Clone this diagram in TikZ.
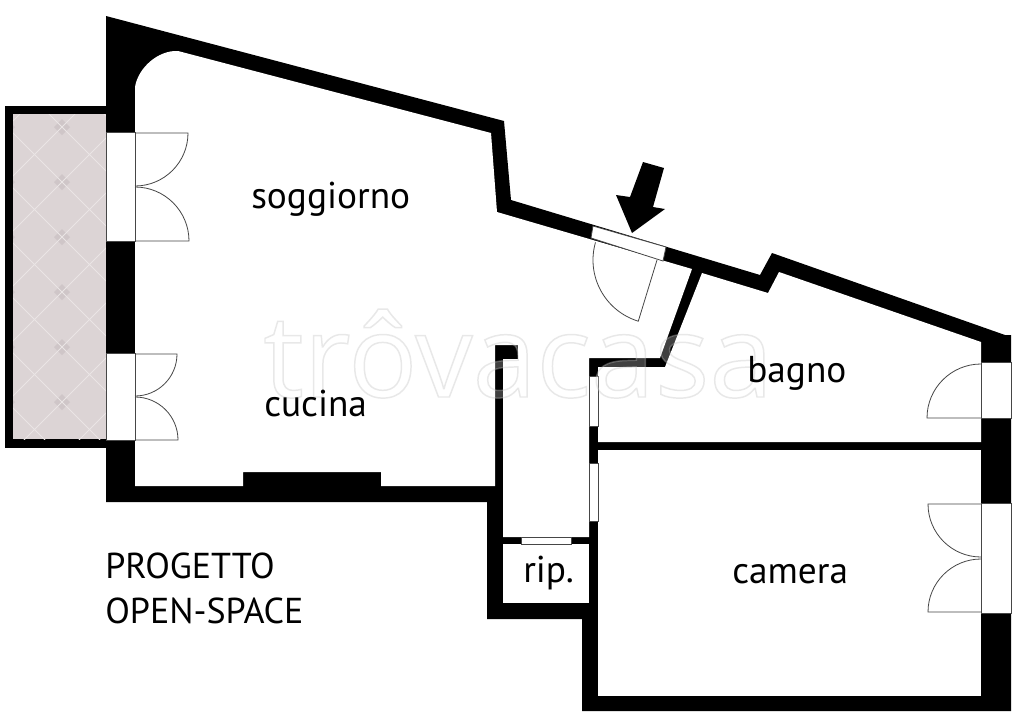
\documentclass[tikz,border=0pt]{standalone}
\usepackage{fontspec}
\setmainfont{PT Sans}
\newfontfamily\markfont{Open Sans}
\usetikzlibrary{positioning, calc}
\definecolor{myfloor}{RGB}{220,212,213}
\definecolor{mytile}{RGB}{234,229,229}
\definecolor{mytiledark}{RGB}{207,198,200}
\definecolor{myline}{RGB}{70,70,70}
\tikzset{
    wall/.style={fill=black,draw=none},
    room/.style={fill=white,draw=none},
    opening/.style={fill=white,draw=myline,line width=0.6pt},
    leaf/.style={draw=myline,line width=0.6pt},
    label/.style={anchor=base west,inner sep=0pt,font=\fontsize{28}{32}\selectfont},
    caps/.style={label,font=\fontsize{27}{32}\selectfont},
}
\begin{document}
\begin{tikzpicture}[x=0.75pt,y=-0.75pt]
    \useasboundingbox (0,0) rectangle (1024,725);
    % balcony
    \fill[black] (5,106) rectangle (110,448);
    \fill[myfloor] (13,114) rectangle (106,439);
    \begin{scope}
        \clip (13,114) rectangle (106,439);
        \foreach \k in {-1,...,7} {
            \foreach \i in {-1,0,1} {
                \fill[mytiledark] ($(62,127)+(55*\i,55*\k)$) +(-8,0) -- +(0,-8) -- +(8,0) -- +(0,8) -- cycle;
            }
        }
        \foreach \k in {-8,...,10} {
            \draw[mytile,line width=0.7pt] (-50,127+55*\k) ++(0,-112) -- ++(400,400);
            \draw[mytile,line width=0.7pt] (-50,127+55*\k) ++(0,112) -- ++(400,-400);
        }
    \end{scope}
    % walls
    \fill[wall] (106,16) -- (504,121) -- (511,200) -- (760,275) -- (772,253) -- (1005,335) -- (1011,335)
        -- (1011,711) -- (582,711) -- (582,619) -- (487,619) -- (487,502) -- (106,502) -- cycle;
    % rooms
    \fill[room] (135,87) .. controls (138,68) and (158,50) .. (178,51) -- (491,133) -- (497,212) -- (692,269)
        -- (660,358) -- (589,358) -- (589,537) -- (503,537) -- (503,359) -- (518,359) -- (518,345) -- (495,345)
        -- (495,486) -- (381,486) -- (381,472) -- (243,472) -- (243,486) -- (135,486) -- cycle;
    \fill[room] (598,367) -- (665,367) -- (702,273) -- (768,293) -- (779,272) -- (981,342)
        -- (981,442) -- (598,442) -- cycle;
    \fill[room] (598,450) rectangle (981,696);
    \fill[room] (503,544) rectangle (589,603);
    % windows
    \foreach \xa/\ya/\xb/\yb in {106/132/135/241,106/353/135/440,981/362/1011/418,981/503/1011/613,589/376/598/426,589/463/598/521,521/537/571/544} {
        \draw[opening] (\xa,\ya) rectangle (\xb,\yb);
    }
    \draw[opening] (593,226) -- (666,247) -- (663,261) -- (591,238) -- cycle;
    % door leaves
    \foreach \hx/\hy/\r/\a/\b in {135/133/53/0/90,135/241/54/0/-90,135/354/42/0/90,135/440/43/0/-90,981/418/54/180/270,981/504/53/180/90,981/612/53/180/270,657/260/64/107/196} {
        \draw[leaf] (\hx,\hy) -- +(\a:\r) arc[start angle=\a,end angle=\b,radius=\r];
    }
    % entrance arrow
    \fill[black,line join=round] (643,162) -- (664,168) -- (653,207) -- (665,209) -- (632,233) -- (616,195) -- (630,197) -- cycle;
    % watermark
    \node[anchor=base west,inner sep=0pt,draw opacity=0.35,fill opacity=0.25,font=\markfont\fontsize{86}{96}\selectfont] (mark) at (263,397)
        {\special{pdf:code 2 Tr 1.1 w 1 1 1 rg 0.75 0.75 0.75 RG}trôvacasa\special{pdf:code 0 Tr 0 0 0 rg 0 0 0 RG}};
    % labels
    \node[label] (soggiorno) at (251,208) {soggiorno};
    \node[label] (cucina) at (264,416) {cucina};
    \node[label] (bagno) at (747,382) {bagno};
    \node[label] (camera) at (732,583) {camera};
    \node[label] (rip) at (523,582) {rip.};
    \node[caps] (progetto) at (105,578) {PROGETTO};
    \node[caps] (openspace) at (105,623) {OPEN-SPACE};
\end{tikzpicture}
\end{document}
